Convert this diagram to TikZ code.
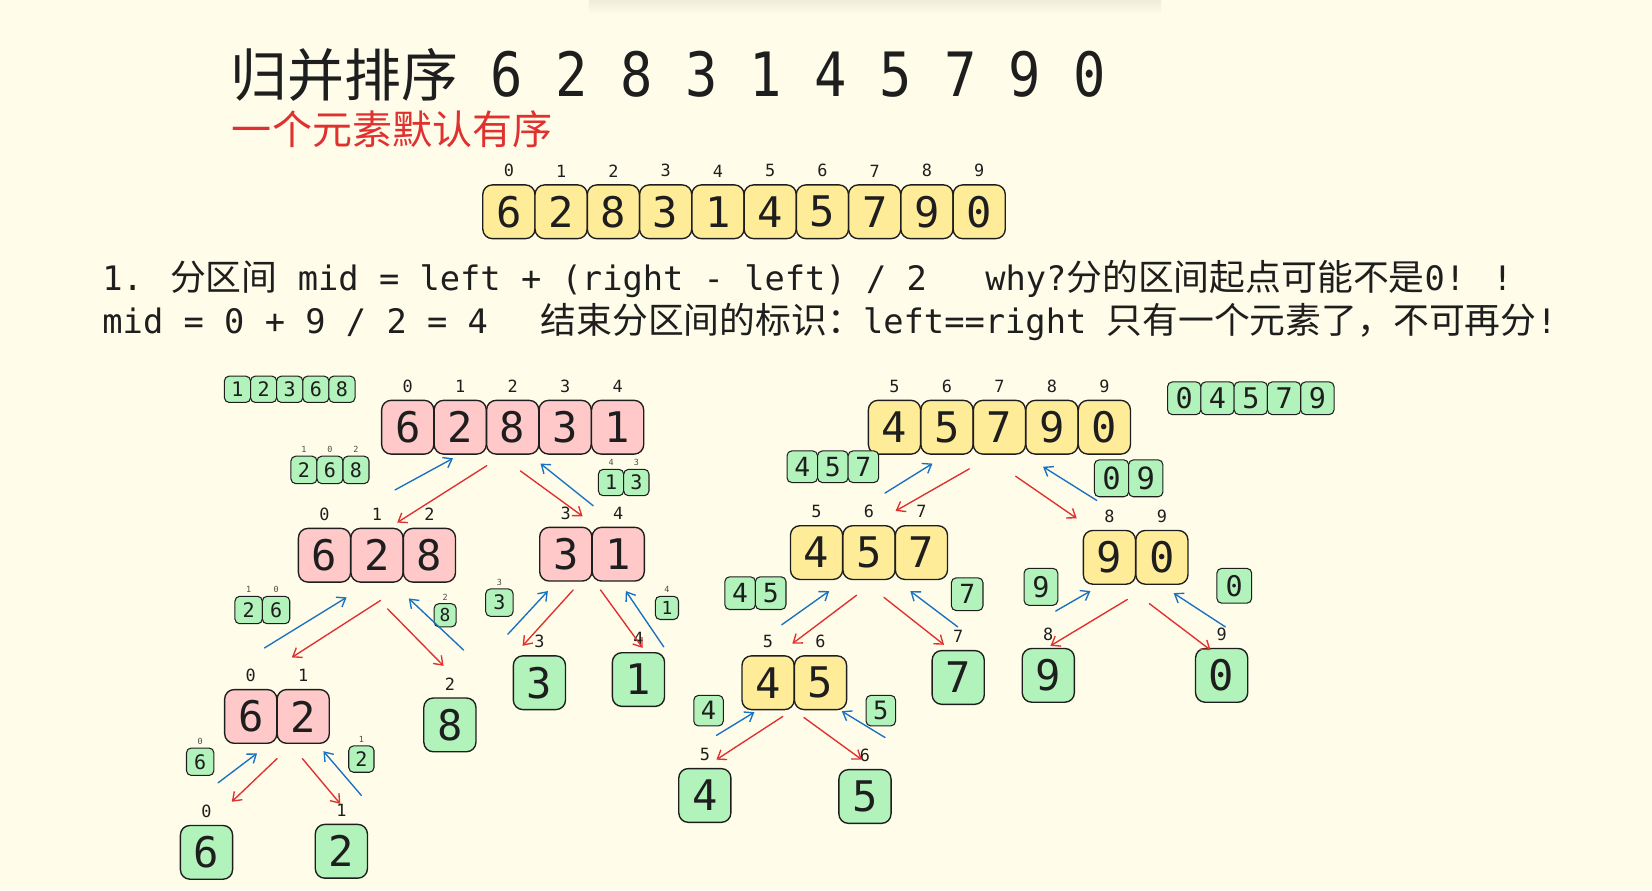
\documentclass[tikz,border=0pt]{standalone}
\usepackage{fontspec}
\setmainfont{DejaVu Sans Mono}
\newfontfamily\cjk{Noto Sans CJK SC}
\newfontfamily\tmono[FakeStretch=0.88]{DejaVu Sans Mono}
\usetikzlibrary{arrows.meta}

\definecolor{bgc}{HTML}{FFFDE9}
\definecolor{ink}{HTML}{1E1E1E}
\definecolor{yfill}{HTML}{FFEC99}
\definecolor{pfill}{HTML}{FFC9C9}
\definecolor{gfill}{HTML}{B2F2BB}
\definecolor{redc}{HTML}{E03131}
\definecolor{bluec}{HTML}{1971C2}

\tikzset{
cell/.style={draw=ink,line width=1.3pt,rounded corners=9pt,inner sep=0pt,
  minimum width=49.5pt,minimum height=51pt,text=ink,font=\fontsize{40}{40}\selectfont},
ycell/.style={cell,fill=yfill},
pcell/.style={cell,fill=pfill},
gcell/.style={cell,fill=gfill},
scell/.style n args={3}{draw=ink,fill=gfill,line width=1pt,rounded corners=4.5pt,inner sep=0pt,
  minimum width=#1pt,minimum height=#2pt,text=ink,font=\fontsize{#3}{#3}\selectfont},
bigidx/.style={inner sep=0pt,text=ink,label distance=6.5pt,font=\fontsize{16}{16}\selectfont},
tinyidx/.style={inner sep=0pt,text=ink!80,label distance=2.5pt,font=\fontsize{8}{8}\selectfont},
split/.style={draw=redc,line width=1.3pt,line cap=round,-{Straight Barb[length=7.5pt,width=11pt]}},
merge/.style={draw=bluec,line width=1.3pt,line cap=round,-{Straight Barb[length=7.5pt,width=11pt]}}
}

% row of cells with their index above: name, cell style, index style, x, y, pitch, value/index
\newcommand\cellrow[7]{%
  \foreach \v/\i [count=\k from 0] in {#7}
    \node[#2,label={[#3]above:\i}] (#1\k) at ({#4+\k*#6},#5) {\v};}
% row of cells without index: name, cell style, x, y, pitch, values
\newcommand\plainrow[6]{%
  \foreach \v [count=\k from 0] in {#6}
    \node[#2] (#1\k) at ({#3+\k*#5},#4) {\v};}
% arrow between two named free ends
\newcommand\arrowlink[4]{%
  \coordinate (#2a) at (#3); \coordinate (#2b) at (#4);
  \draw[#1] (#2a) -- (#2b);}

\begin{document}
\begin{tikzpicture}[x=1pt,y=-1pt]

\useasboundingbox (0,0) rectangle (1568,845);
\fill[bgc] (0,0) rectangle (1568,845);
\shade[top color=black!6!bgc,bottom color=bgc] (559,0) rectangle (1102,14);

% texts
\node[anchor=base west,inner sep=0pt,text=ink] (title) at (219,92)
  {{\cjk\fontsize{54}{54}\selectfont 归并排序}\tmono\fontsize{58}{58}\selectfont\ 6 2 8 3 1 4 5 7 9 0};
\node[anchor=base west,inner sep=0pt,text=redc,font=\cjk\fontsize{38}{38}\selectfont] (hint) at (220,137) {一个元素默认有序};
\node[anchor=base west,inner sep=0pt,text=ink,font=\fontsize{32}{32}\selectfont] (step) at (97,276)
  {1. {\cjk\fontsize{34}{34}\selectfont 分区间} mid = left + (right - left) / 2};
\node[anchor=base west,inner sep=0pt,text=ink,font=\fontsize{32}{32}\selectfont] (why) at (935,276)
  {why?{\cjk\fontsize{34}{34}\selectfont 分的区间起点可能不是}0! !};
\node[anchor=base west,inner sep=0pt,text=ink,font=\fontsize{32}{32}\selectfont] (mid) at (97,317)
  {mid = 0 + 9 / 2 = 4};
\node[anchor=base west,inner sep=0pt,text=ink,font=\fontsize{32}{32}\selectfont] (stop) at (513,317)
  {{\cjk\fontsize{34}{34}\selectfont 结束分区间的标识：}left==right {\cjk\fontsize{34}{34}\selectfont 只有一个元素了，不可再分}!};

% whole array
\cellrow{top}{ycell}{bigidx}{483}{201}{49.6}{6/0,2/1,8/2,3/3,1/4,4/5,5/6,7/7,9/8,0/9}

% left half
\cellrow{lt}{pcell}{bigidx}{387}{405.5}{49.8}{6/0,2/1,8/2,3/3,1/4}
\cellrow{la}{pcell}{bigidx}{308}{527}{49.8}{6/0,2/1,8/2}
\cellrow{lb}{pcell}{bigidx}{537}{526}{49.8}{3/3,1/4}
\cellrow{lc}{pcell}{bigidx}{238}{680}{49.8}{6/0,2/1}
\cellrow{ld}{gcell}{bigidx}{427}{688}{0}{8/2}
\cellrow{le}{gcell}{bigidx}{512}{648}{0}{3/3}
\cellrow{lf}{gcell}{bigidx}{606}{645}{0}{1/4}
\cellrow{lg}{gcell}{bigidx}{196}{809}{0}{6/0}
\cellrow{lh}{gcell}{bigidx}{324}{808}{0}{2/1}

\plainrow{ma}{scell={24.8}{25}{19}}{225.4}{369.5}{24.8}{1,2,3,6,8}
\cellrow{sa}{scell={24.7}{26}{19}}{tinyidx}{288.5}{446}{24.7}{2/1,6/0,8/2}
\cellrow{sb}{scell={24}{25}{19}}{tinyidx}{580}{458}{24}{1/4,3/3}
\cellrow{sc}{scell={26}{26}{19}}{tinyidx}{236}{579}{26}{2/1,6/0}
\cellrow{sd}{scell={21}{22}{17}}{tinyidx}{422.5}{584}{0}{8/2}
\cellrow{se}{scell={26}{26}{19}}{tinyidx}{474}{572}{0}{3/3}
\cellrow{sf}{scell={22}{22}{17}}{tinyidx}{633}{577}{0}{1/4}
\cellrow{sg}{scell={26}{26}{19}}{tinyidx}{190}{723}{0}{6/0}
\cellrow{sh}{scell={24}{25}{19}}{tinyidx}{343}{720.5}{0}{2/1}

\arrowlink{merge}{l1}{375,465}{430,435}
\arrowlink{split}{l2}{462,442}{377,496}
\arrowlink{split}{l3}{494,447}{553,490}
\arrowlink{merge}{l4}{563,480}{513,440}
\arrowlink{merge}{l5}{251,615}{329,567}
\arrowlink{split}{l6}{361,570}{277,624}
\arrowlink{split}{l7}{368,578}{421,632}
\arrowlink{merge}{l8}{440,617}{388,568}
\arrowlink{merge}{l9}{482,602}{520,561}
\arrowlink{split}{l10}{544,560}{496,613}
\arrowlink{split}{l11}{570,560}{610,615}
\arrowlink{merge}{l12}{630,614}{594,561}
\arrowlink{merge}{l13}{207,743}{244,715}
\arrowlink{split}{l14}{263,720}{220,761}
\arrowlink{split}{l15}{287,720}{323,763}
\arrowlink{merge}{l16}{343,755}{307,713}

% right half
\cellrow{rt}{ycell}{bigidx}{849}{405.5}{49.8}{4/5,5/6,7/7,9/8,0/9}
\cellrow{ra}{ycell}{bigidx}{775}{524.5}{49.8}{4/5,5/6,7/7}
\cellrow{rb}{ycell}{bigidx}{1053}{529}{49.8}{9/8,0/9}
\cellrow{rc}{ycell}{bigidx}{729}{648}{49.8}{4/5,5/6}
\cellrow{rd}{gcell}{bigidx}{909.5}{643}{0}{7/7}
\cellrow{re}{gcell}{bigidx}{995}{641}{0}{9/8}
\cellrow{rf}{gcell}{bigidx}{1159.5}{641}{0}{0/9}
\cellrow{rg}{gcell}{bigidx}{669}{755}{0}{4/5}
\cellrow{rh}{gcell}{bigidx}{821}{756}{0}{5/6}

\plainrow{mb}{scell={31.6}{31}{27}}{1124}{378}{31.6}{0,4,5,7,9}
\plainrow{si}{scell={29}{30}{25}}{761.5}{443}{29}{4,5,7}
\plainrow{sj}{scell={32.5}{35}{29}}{1055}{454}{32.5}{0,9}
\plainrow{sk}{scell={29}{31}{25}}{702.5}{563}{29}{4,5}
\plainrow{sl}{scell={30}{31}{25}}{918}{564}{0}{7}
\plainrow{sm}{scell={32}{35}{27}}{988}{557}{0}{9}
\plainrow{sn}{scell={33}{33}{27}}{1171.5}{556}{0}{0}
\plainrow{so}{scell={28}{29}{24}}{672.5}{674.5}{0}{4}
\plainrow{sp}{scell={28}{29}{24}}{836}{674.5}{0}{5}

\arrowlink{merge}{r1}{840,468}{885,440}
\arrowlink{split}{r2}{920,445}{850,485}
\arrowlink{split}{r3}{964,452}{1022,492}
\arrowlink{merge}{r4}{1041,475}{990,443}
\arrowlink{merge}{r5}{742,593}{787,561}
\arrowlink{split}{r6}{813,565}{752,611}
\arrowlink{split}{r7}{839,567}{896,612}
\arrowlink{merge}{r8}{909,595}{864,561}
\arrowlink{merge}{r9}{1002,580}{1035,561}
\arrowlink{split}{r10}{1070,569}{997,613}
\arrowlink{split}{r11}{1091,573}{1149,617}
\arrowlink{merge}{r12}{1163,595}{1114,563}
\arrowlink{merge}{r13}{680,698}{716,676}
\arrowlink{split}{r14}{743,680}{680,721}
\arrowlink{split}{r15}{763,681}{818,721}
\arrowlink{merge}{r16}{840,700}{799,675}

\end{tikzpicture}
\end{document}
